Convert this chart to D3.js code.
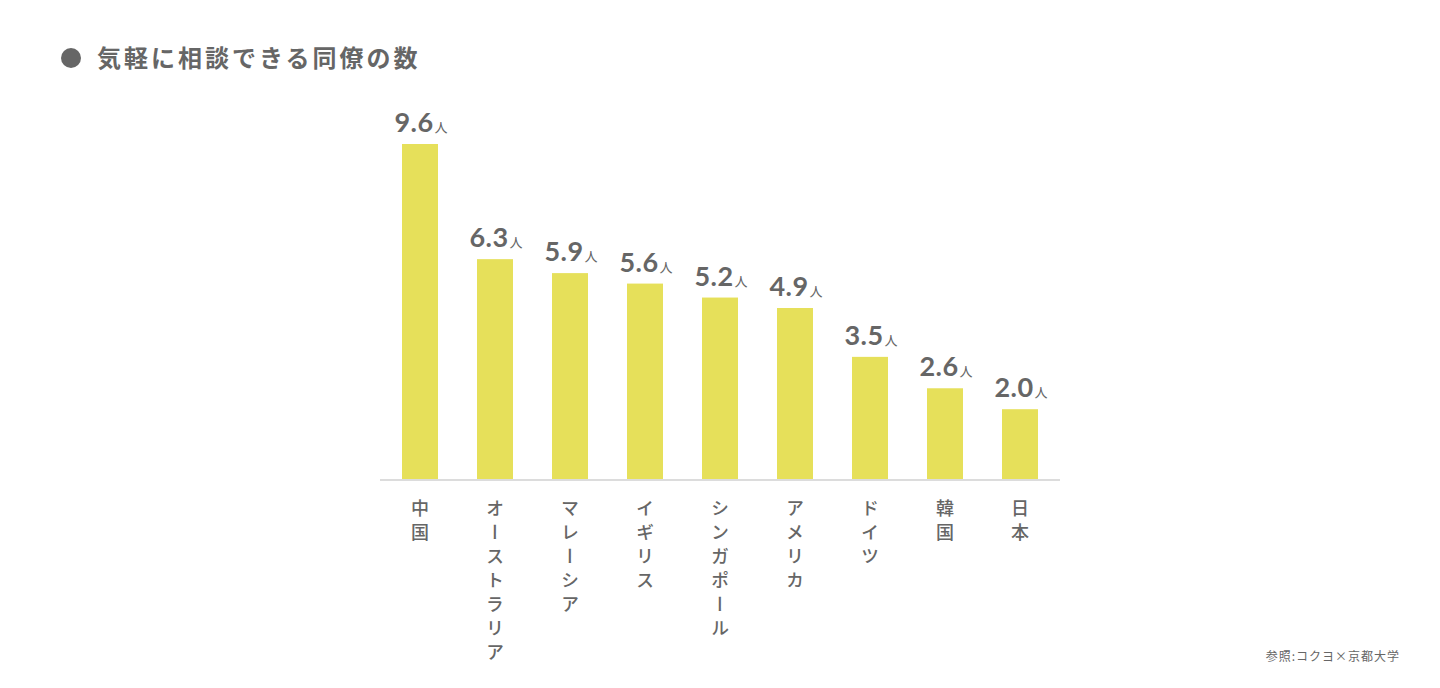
<!DOCTYPE html>
<html lang="ja">
<head>
	<meta charset="utf-8">
	<title>気軽に相談できる同僚の数</title>
	<style>
		html, body { margin: 0; padding: 0; background: #fff; }
		svg { display: block; font-family: "Noto Sans CJK JP", "Noto Sans", sans-serif; }
	</style>
</head>
<body>
	<script src="https://cdn.jsdelivr.net/npm/d3@7"></script>
	<script>
		const countries = ["中国", "オーストラリア", "マレーシア", "イギリス", "シンガポール", "アメリカ", "ドイツ", "韓国", "日本"];
		const values = [9.6, 6.3, 5.9, 5.6, 5.2, 4.9, 3.5, 2.6, 2.0];
		const unit = "人";
		const title = "気軽に相談できる同僚の数";
		const source = "参照:コクヨ×京都大学";

		const W = 1440, H = 688;
		const textColor = "#666";

		const svg = d3.select("body").append("svg")
			.attr("width", W)
			.attr("height", H);

		// title
		svg.append("circle")
			.attr("cx", 71).attr("cy", 58).attr("r", 10)
			.attr("fill", textColor);
		svg.append("text")
			.attr("x", 97).attr("y", 67)
			.attr("font-size", 24).attr("font-weight", 700)
			.attr("letter-spacing", 3)
			.attr("fill", textColor)
			.text(title);

		const x = d3.scaleBand()
			.domain(countries)
			.range([382.5, 1057.5])
			.paddingInner(0.52)
			.paddingOuter(0.26);

		const y = d3.scaleLinear()
			.domain([0, 9.6])
			.range([479, 144]);

		const data = countries.map((c, i) => ({ c, v: values[i] }));

		svg.append("g")
			.selectAll("rect")
			.data(data)
			.join("rect")
			.attr("x", d => x(d.c))
			.attr("y", d => y(d.v))
			.attr("width", x.bandwidth())
			.attr("height", d => y(0) - y(d.v))
			.attr("fill", "#e6e05a");

		// baseline
		svg.append("line")
			.attr("x1", 380).attr("x2", 1060)
			.attr("y1", y(0) + 1).attr("y2", y(0) + 1)
			.attr("stroke", "#dcdcdc").attr("stroke-width", 2);

		// value labels
		const lbl = svg.append("g")
			.selectAll("text")
			.data(data)
			.join("text")
			.attr("x", d => x(d.c) + x.bandwidth() / 2 + 1)
			.attr("y", d => y(d.v) - 12)
			.attr("text-anchor", "middle")
			.attr("fill", textColor)
			.attr("font-family", "Lato, 'Noto Sans', sans-serif");
		lbl.append("tspan")
			.attr("font-size", 27).attr("font-weight", 700)
			.attr("letter-spacing", 0.5)
			.text(d => d.v.toFixed(1));
		lbl.append("tspan")
			.attr("dx", 1)
			.attr("font-size", 13)
			.attr("font-family", "'Noto Sans CJK JP', sans-serif")
			.text(unit);

		// vertical category labels
		svg.append("g")
			.selectAll("text")
			.data(data)
			.join("text")
			.attr("x", d => x(d.c) + x.bandwidth() / 2)
			.attr("y", 499)
			.style("writing-mode", "vertical-rl")
			.style("text-orientation", "upright")
			.attr("font-size", 18)
			.attr("font-weight", 500)
			.attr("letter-spacing", 6)
			.attr("fill", textColor)
			.text(d => d.c);

		// source
		svg.append("text")
			.attr("x", 1400).attr("y", 661)
			.attr("text-anchor", "end")
			.attr("font-size", 12)
			.attr("letter-spacing", 1)
			.attr("fill", textColor)
			.text(source);
	</script>
</body>
</html>
